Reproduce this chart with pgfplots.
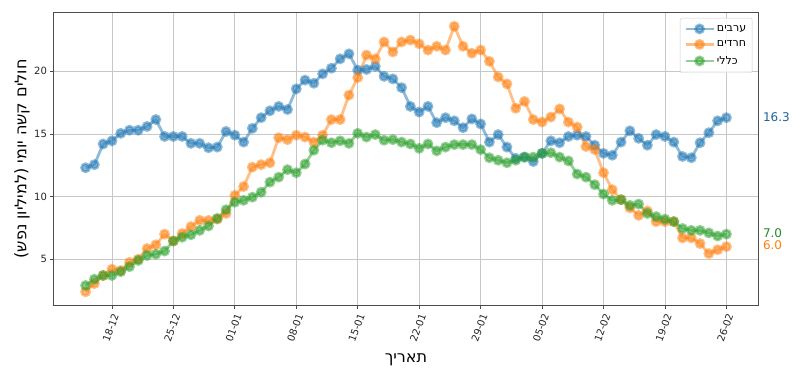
\documentclass[border=0pt]{standalone}
\usepackage{pgfplots}
\pgfplotsset{compat=1.18}
\usepackage{pgfplotstable}
\usepackage{fontspec}
\setmainfont{DejaVu Sans}
\newfontfamily\heb[Script=Hebrew]{DejaVu Sans}
\TeXXeTstate=1
\definecolor{mblue}{HTML}{1F77B4}
\definecolor{morange}{HTML}{FF7F0E}
\definecolor{mgreen}{HTML}{2CA02C}

\pgfplotstableread{
x y
-3 12.3
-2 12.55
-1 14.2
0 14.45
1 15.05
2 15.3
3 15.3
4 15.6
5 16.15
6 14.8
7 14.8
8 14.8
9 14.25
10 14.25
11 13.9
12 13.95
13 15.2
14 14.9
15 14.35
16 15.45
17 16.3
18 16.85
19 17.2
20 16.95
21 18.6
22 19.3
23 19.05
24 19.8
25 20.25
26 21.0
27 21.4
28 20.1
29 20.15
30 20.4
31 19.6
32 19.4
33 18.7
34 17.2
35 16.75
36 17.2
37 15.9
38 16.3
39 16.05
40 15.5
41 16.2
42 15.8
43 14.35
44 14.95
45 13.95
46 13.05
47 13.15
48 12.8
49 13.45
50 14.45
51 14.3
52 14.8
53 14.9
54 14.8
55 14.1
56 13.45
57 13.3
58 14.35
59 15.25
60 14.65
61 14.1
62 14.95
63 14.8
64 14.35
65 13.2
66 13.1
67 14.3
68 15.1
69 16.05
70 16.3
}\arabs

\pgfplotstableread{
x y
-3 2.4
-2 3.05
-1 3.7
0 4.2
1 4.1
2 4.75
3 5.0
4 5.85
5 6.15
6 7.0
7 6.45
8 7.05
9 7.6
10 8.1
11 8.1
12 8.2
13 8.65
14 10.1
15 10.8
16 12.35
17 12.55
18 12.7
19 14.7
20 14.55
21 14.9
22 14.75
23 14.35
24 14.9
25 16.15
26 16.15
27 18.1
28 19.5
29 21.3
30 21.0
31 22.35
32 21.55
33 22.35
34 22.5
35 22.2
36 21.7
37 22.0
38 21.7
39 23.6
40 22.0
41 21.45
42 21.7
43 20.8
44 19.55
45 19.0
46 17.05
47 17.6
48 16.15
49 15.95
50 16.35
51 17.0
52 15.95
53 15.55
54 14.0
55 13.75
56 11.9
57 10.55
58 9.75
59 9.1
60 8.5
61 8.85
62 8.0
63 8.0
64 8.0
65 6.7
66 6.7
67 6.25
68 5.45
69 5.75
70 6.0
}\haredim

\pgfplotstableread{
x y
-3 2.9
-2 3.4
-1 3.7
0 3.7
1 4.0
2 4.4
3 4.9
4 5.3
5 5.4
6 5.65
7 6.45
8 6.75
9 6.95
10 7.3
11 7.65
12 8.25
13 8.95
14 9.55
15 9.7
16 9.95
17 10.35
18 11.15
19 11.55
20 12.15
21 11.9
22 12.6
23 13.7
24 14.5
25 14.3
26 14.45
27 14.25
28 15.05
29 14.75
30 14.95
31 14.5
32 14.55
33 14.35
34 14.2
35 13.85
36 14.2
37 13.65
38 13.95
39 14.15
40 14.15
41 14.15
42 13.75
43 13.1
44 12.9
45 12.7
46 12.9
47 13.15
48 13.15
49 13.45
50 13.5
51 13.15
52 12.85
53 11.8
54 11.55
55 10.95
56 10.2
57 9.7
58 9.75
59 9.3
60 9.4
61 8.65
62 8.4
63 8.2
64 8.0
65 7.45
66 7.3
67 7.3
68 7.1
69 6.85
70 7.0
}\general

\begin{document}
\begin{tikzpicture}
\path[use as bounding box] (-54pt,-78pt) rectangle (746pt,305pt);
\begin{axis}[
  at={(0pt,0pt)}, anchor=south west,
  scale only axis, width=704pt, height=292pt,
  xmin=-6.6, xmax=73.6, ymin=1.34, ymax=24.66,
  xtick={0,7,...,70},
  xticklabels={18-12,25-12,01-01,08-01,15-01,22-01,29-01,05-02,12-02,19-02,26-02},
  ytick={5,10,15,20},
  grid=major, grid style={color=black!22, line width=0.8pt},
  axis line style={color=black!70, line width=1pt},
  tick style={color=black!70, line width=0.8pt},
  tick align=outside, major tick length=3.5pt, tick pos=left,
  ticklabel style={font=\fontsize{10}{12}\selectfont, color=black!85},
  xticklabel style={xshift=5pt, yshift=-2pt, rotate=70, anchor=east},
  /pgf/number format/assume math mode=true,
  xlabel={\heb\beginR תאריך\endR},
  xlabel style={at={(axis description cs:0.5,-0.188)}, anchor=center, font=\fontsize{16}{18}\selectfont},
  ylabel={\heb\beginR חולים קשה יומי (למיליון נפש)\endR},
  ylabel style={at={(axis description cs:-0.0455,0.5)}, anchor=center, rotate=0, font=\fontsize{16}{18}\selectfont},
  clip=false,
  legend style={at={(0.992,0.983)}, anchor=north east, draw=black!20, rounded corners=2pt,
    fill=white, fill opacity=0.8, text opacity=1, font=\fontsize{11}{13}\selectfont,
    row sep=4pt, inner xsep=4pt, inner ysep=5pt},
  legend cell align=left,
  legend image code/.code={\draw[mark repeat=2,mark phase=2,#1] plot coordinates {(0pt,0pt) (14pt,0pt) (28pt,0pt)};},
  every axis plot/.append style={line width=2.8pt, mark=*, mark size=4pt, opacity=0.5},
]
\addplot[color=mblue, mark options={draw=none, fill=mblue}] table[x=x,y=y] {\arabs};
\addlegendentry{\heb\beginR ערבים\endR}
\addplot[color=morange, mark options={draw=none, fill=morange}] table[x=x,y=y] {\haredim};
\addlegendentry{\heb\beginR חרדים\endR}
\addplot[color=mgreen, mark options={draw=none, fill=mgreen}] table[x=x,y=y] {\general};
\addlegendentry{\heb\beginR כללי\endR}
\node[anchor=west, inner sep=0pt, text=mblue!85!black, font=\fontsize{12}{14}\selectfont] at (axis cs:74.15,16.33) {16.3};
\node[anchor=west, inner sep=0pt, text=mgreen!85!black, font=\fontsize{12}{14}\selectfont] at (axis cs:74.15,7.07) {7.0};
\node[anchor=west, inner sep=0pt, text=morange, font=\fontsize{12}{14}\selectfont] at (axis cs:74.15,6.1) {6.0};
\end{axis}
\end{tikzpicture}
\end{document}
